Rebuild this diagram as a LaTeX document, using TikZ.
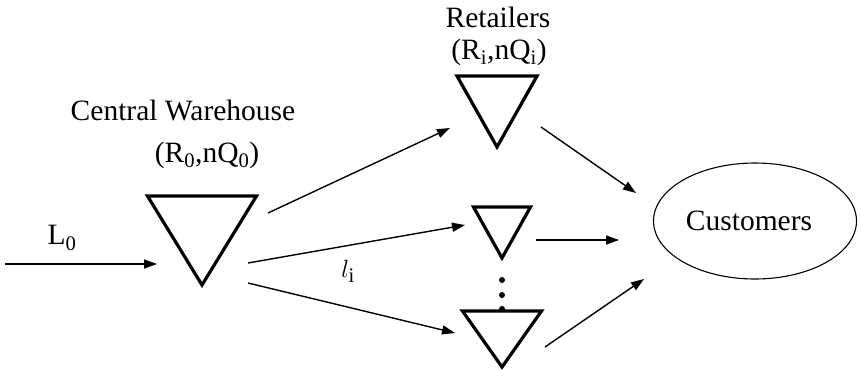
\documentclass[tikz,border=0pt]{standalone}
\usepackage{fontspec}
\setmainfont{Liberation Serif}
\usetikzlibrary{positioning,arrows.meta,shapes.geometric,calc}

\begin{document}
\begin{tikzpicture}[x=1pt,y=-1pt,
        stock/.style={draw,isosceles triangle,shape border rotate=270,
                      isosceles triangle stretches,inner sep=0pt,outer sep=0pt,
                      line width=3.2pt,anchor=apex},
        lbl/.style={font=\fontsize{29.5}{33}\selectfont,inner sep=0pt},
        arr/.style={-{Triangle[length=13pt,width=9pt]},line width=1.4pt}]
        \useasboundingbox (0,0) rectangle (861,370);
        % stocking points
        \node[stock,minimum width=109,minimum height=89] (cw) at (202,285) {};
        \node[stock,minimum width=80,minimum height=71] (r1) at (497,147) {};
        \node[stock,minimum width=57,minimum height=51] (r2) at (502,258) {};
        \node[stock,minimum width=79,minimum height=56] (r3) at (502,367) {};
        \node[draw,ellipse,line width=1.1pt,minimum width=203,minimum height=116,
              lbl] (cust) at (755,221) {Customers\hspace*{12pt}};
        % labels
        \node[lbl] (cwname) at (183,110) {Central Warehouse};
        \node[lbl] (cwpar) at (207,155) {(R\textsubscript{0},nQ\textsubscript{0})};
        \node[lbl] (rname) at (498,17) {Retailers};
        \node[lbl] (rpar) at (499,52) {(R\textsubscript{i},nQ\textsubscript{i})};
        \node[lbl] (lead) at (62,238) {L\textsubscript{0}};
        \node[lbl] (li) at (348,271) {$l_{\mathrm{i}}$};
        \foreach \y in {280,295,309} \fill (502,\y) circle (3pt);
        % flows
        \coordinate (src) at (5,264);
        \draw[arr] (src) -- ($(cw.apex)+(-45,-21)$);
        \draw[arr] ($(cw.apex)+(66,-72)$) -- ($(r1.apex)+(-47,-19)$);
        \draw[arr] ($(cw.apex)+(46,-22)$) -- ($(r2.apex)+(-37,-33)$);
        \draw[arr] ($(cw.apex)+(46,-2)$) -- ($(r3.apex)+(-47,-34)$);
        \draw[arr] ($(r1.apex)+(44,-20)$) -- ($(cust)+(-119,-28)$);
        \draw[arr] ($(r2.apex)+(34,-18)$) -- ($(cust)+(-136,19)$);
        \draw[arr] ($(r3.apex)+(43,-20)$) -- ($(cust)+(-111,58)$);
\end{tikzpicture}
\end{document}
